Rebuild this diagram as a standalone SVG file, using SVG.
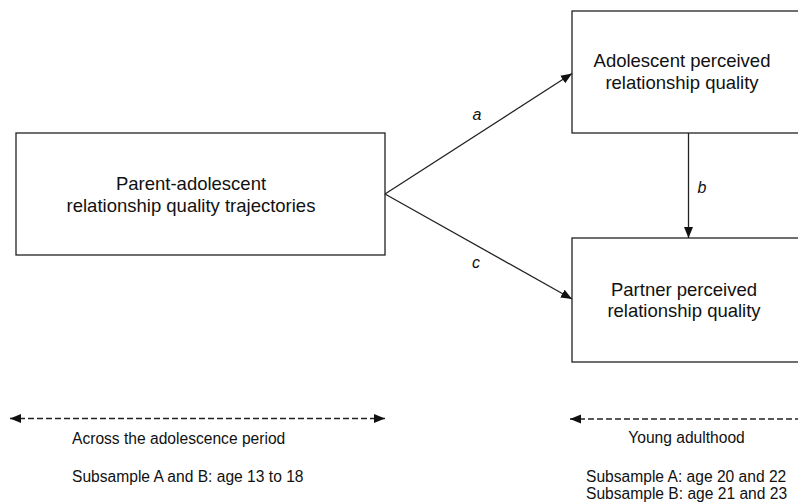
<svg xmlns="http://www.w3.org/2000/svg" width="798" height="504" viewBox="0 0 798 504">
<defs>
<style>
.box{fill:#fff;stroke:#222;stroke-width:1.3}
.lbl{font-family:"Liberation Sans",Arial,sans-serif;font-size:18.5px;fill:#111;text-anchor:middle}
.edge{font-family:"Liberation Sans",Arial,sans-serif;font-size:16px;font-style:italic;fill:#111;text-anchor:middle}
.note{font-family:"Liberation Sans",Arial,sans-serif;font-size:15.6px;fill:#111}
.conn{fill:none;stroke:#222;stroke-width:1.3}
.dash{fill:none;stroke:#222;stroke-width:1.3;stroke-dasharray:6,3}
</style>
<marker id="ah" markerUnits="userSpaceOnUse" markerWidth="12" markerHeight="10" refX="11" refY="5" orient="auto-start-reverse">
<path d="M0,0.5 L11,5 L0,9.5 z" fill="#111"/>
</marker>
</defs>
<rect width="798" height="504" fill="#fff"/>
<g id="n1">
<rect class="box" x="16" y="133" width="369" height="122"/>
<text class="lbl" x="191" y="190">Parent-adolescent</text>
<text class="lbl" x="191" y="212">relationship quality trajectories</text>
</g>
<g id="n2">
<rect class="box" x="572" y="11" width="240" height="122"/>
<text class="lbl" x="682" y="67">Adolescent perceived</text>
<text class="lbl" x="682" y="89">relationship quality</text>
</g>
<g id="n3">
<rect class="box" x="572" y="238" width="240" height="124"/>
<text class="lbl" x="684" y="296">Partner perceived</text>
<text class="lbl" x="684" y="317">relationship quality</text>
</g>
<g id="connectors">
<line class="conn" x1="385" y1="194" x2="572" y2="73.5" marker-end="url(#ah)"/>
<line class="conn" x1="385" y1="194" x2="572" y2="299" marker-end="url(#ah)"/>
<line class="conn" x1="688.5" y1="133" x2="688.5" y2="238" marker-end="url(#ah)"/>
<text class="edge" x="477" y="120">a</text>
<text class="edge" x="476" y="268">c</text>
<text class="edge" x="702" y="193">b</text>
</g>
<g id="timeline">
<line class="dash" x1="10" y1="418.5" x2="385" y2="418.5" marker-start="url(#ah)" marker-end="url(#ah)"/>
<line class="dash" x1="570" y1="419" x2="810" y2="419" marker-start="url(#ah)"/>
<text class="note" x="72" y="444">Across the adolescence period</text>
<text class="note" x="72" y="482">Subsample A and B: age 13 to 18</text>
<text class="note" x="686.5" y="443" text-anchor="middle">Young adulthood</text>
<text class="note" x="586" y="482">Subsample A: age 20 and 22</text>
<text class="note" x="586" y="499">Subsample B: age 21 and 23</text>
</g>
</svg>
